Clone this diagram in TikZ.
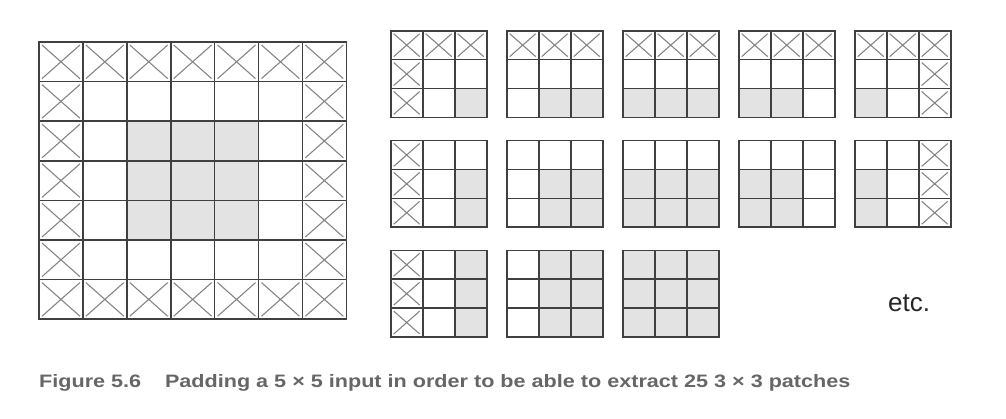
\documentclass[tikz,border=0pt]{standalone}
\usepackage{fontspec}
\setmainfont{Liberation Sans}
\definecolor{gridline}{HTML}{404040}
\definecolor{crossline}{HTML}{858585}
\definecolor{cellshade}{HTML}{E3E3E3}
\definecolor{captiongray}{HTML}{666666}
\newif\ifpadded

% x, y, width, height, row, column in the padded 7x7 input
\newcommand{\padcell}[6]{%
  \ifnum#5>1 \ifnum#5<5 \ifnum#6>1 \ifnum#6<5
    \fill[cellshade] ({#1},{#2}) rectangle ++({#3},{#4});
  \fi\fi\fi\fi
  \paddedfalse
  \ifnum#5=0 \paddedtrue\fi \ifnum#5=6 \paddedtrue\fi
  \ifnum#6=0 \paddedtrue\fi \ifnum#6=6 \paddedtrue\fi
  \ifpadded
    \draw[crossx] ({#1+3},{#2+3}) -- ({#1+#3-3},{#2+#4-3})
                  ({#1+#3-3},{#2+3}) -- ({#1+3},{#2+#4-3});
  \fi
}

\begin{document}
\begin{tikzpicture}
[
x=1pt,y=-1pt,
cellbox/.style={draw=gridline,line width=1.6pt},
crossx/.style={draw=crossline,line width=1.1pt},
]
\useasboundingbox (0,0) rectangle (1006,418);

%The padded input
\foreach \r in {0,...,6}
  \foreach \c in {0,...,6}
    \padcell{39+43.9*\c}{42+39.6*\r}{43.9}{39.6}{\r}{\c};
\foreach \r in {0,...,6}
  \foreach \c in {0,...,6}
    \draw[cellbox] ({39+43.9*\c},{42+39.6*\r}) rectangle ++(43.9,39.6);

%The 3x3 patches
\foreach \n in {0,...,12}{
  \pgfmathtruncatemacro\pr{int(\n/5)}
  \pgfmathtruncatemacro\pc{mod(\n,5)}
  \pgfmathsetmacro\px{390.7+116*\pc}
  \pgfmathsetmacro\py{30.7+109.8*\pr}
  \foreach \i in {0,1,2}
    \foreach \j in {0,1,2}{
      \pgfmathtruncatemacro\rr{\pr+\i}
      \pgfmathtruncatemacro\cc{\pc+\j}
      \padcell{\px+32*\j}{\py+28.9*\i}{32}{28.9}{\rr}{\cc}
    }
  \foreach \i in {0,1,2}
    \foreach \j in {0,1,2}
      \draw[cellbox] ({\px+32*\j},{\py+28.9*\i}) rectangle ++(32,28.9);
}

%Labels
\node[anchor=base west,inner sep=0pt,text=black!85,font=\fontsize{26}{30}\selectfont] (etc) at (888,311) {etc.};
\node[anchor=base west,inner sep=0pt,xscale=1.2,text=captiongray,font=\bfseries\fontsize{18}{22}\selectfont] (caption) at (39,387)
  {Figure 5.6\hspace{1.1em}Padding a 5 × 5 input in order to be able to extract 25 3 × 3 patches};
\end{tikzpicture}
\end{document}
